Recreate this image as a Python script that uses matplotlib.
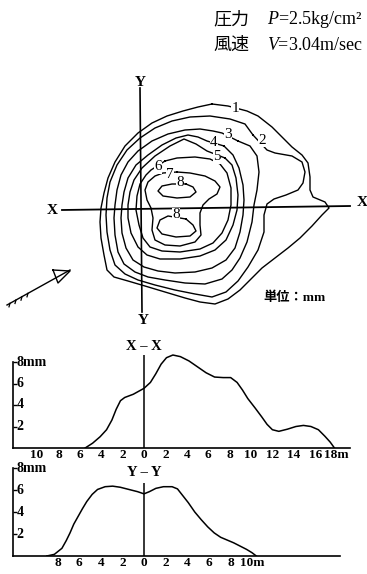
#!/usr/bin/python

# Spray pattern of a sprinkler: depth contours and two cross-section profiles

import matplotlib
matplotlib.use('Agg')
import matplotlib.pyplot as plt

plt.rcParams['font.family'] = ['Liberation Serif', 'Noto Sans CJK JP']
plt.rcParams['mathtext.fontset'] = 'custom'
plt.rcParams['mathtext.it'] = 'Liberation Serif:italic'
plt.rcParams['mathtext.rm'] = 'Liberation Serif'

# contour lines (x, y) in m, origin at the X-Y crossing
c1 = [(7.2, 10.4), (8.8, 10.2), (10.7, 9.7), (11.8, 9.2), (13.2, 8.1), (14.2, 7.1),
      (15.2, 6.1), (16.2, 5.3), (16.8, 4.5), (17.0, 3.1), (17.0, 1.8), (17.3, 1.1),
      (18.5, 0.6), (18.9, 0.0), (18.2, -0.7), (17.2, -1.8), (16.0, -3.0), (14.8, -4.0),
      (13.5, -5.0), (12.2, -6.0), (11.0, -7.2), (10.0, -8.2), (8.8, -9.1), (7.5, -9.6),
      (6.0, -9.4), (4.5, -9.0), (2.5, -8.4), (0.5, -7.8), (-1.2, -7.3), (-2.6, -6.9),
      (-3.3, -6.2), (-3.6, -4.7), (-3.9, -3.0), (-4.0, -1.4), (-3.9, 0.0), (-3.6, 1.5),
      (-3.2, 3.0), (-2.5, 4.6), (-1.5, 6.2), (-0.2, 7.5), (1.2, 8.5), (2.7, 9.2),
      (4.3, 9.7), (5.8, 10.1)]
c2 = [(11.3, 7.3), (12.7, 5.8), (13.5, 5.5), (15.2, 5.2), (16.2, 4.6), (16.5, 3.6),
      (16.3, 2.5), (15.8, 1.8), (14.6, 1.3), (13.4, 0.9), (12.7, 0.4), (12.4, -0.7),
      (12.4, -2.4), (11.8, -4.2), (10.8, -5.9), (9.8, -7.3), (8.6, -8.4), (7.2, -8.9),
      (5.5, -8.6), (3.5, -8.2), (1.5, -7.7), (-0.2, -7.2), (-1.5, -6.6), (-2.5, -5.7),
      (-3.0, -4.2), (-3.3, -2.4), (-3.4, -0.7), (-3.3, 1.0), (-3.0, 2.6), (-2.3, 4.3),
      (-1.3, 5.8), (0.0, 7.0), (1.5, 8.0), (3.2, 8.7), (5.0, 9.1), (7.0, 9.2),
      (9.0, 8.9), (10.5, 8.4)]
c3 = [(9.8, 6.7), (11.0, 6.2), (11.7, 5.2), (11.9, 3.6), (11.7, 1.8), (11.4, 0.3),
      (11.2, -1.4), (10.7, -3.4), (10.0, -5.0), (9.2, -6.2), (8.2, -7.1), (6.5, -7.6),
      (4.5, -7.5), (2.5, -7.2), (0.8, -6.9), (-0.5, -6.4), (-1.6, -5.6), (-2.2, -4.4),
      (-2.5, -2.7), (-2.6, -1.0), (-2.5, 0.3), (-2.3, 1.8), (-1.9, 3.3), (-1.2, 4.6),
      (-0.2, 5.7), (1.2, 6.7), (2.8, 7.4), (4.5, 7.8), (6.0, 7.9), (7.3, 7.7), (8.2, 7.5)]
c4 = [(8.4, 6.2), (9.3, 5.3), (9.9, 4.0), (10.3, 2.3), (10.4, 0.8), (10.3, -0.7),
      (10.0, -2.4), (9.5, -4.0), (8.6, -5.2), (7.2, -6.0), (5.5, -6.4), (3.5, -6.5),
      (1.8, -6.3), (0.4, -5.9), (-0.7, -5.2), (-1.4, -4.0), (-1.8, -2.5), (-1.9, -1.0),
      (-1.8, 0.3), (-1.6, 1.6), (-1.2, 3.0), (-0.4, 4.3), (0.8, 5.3), (2.2, 6.3),
      (3.6, 7.0), (4.8, 7.3), (5.8, 7.1), (6.7, 6.7)]
c5 = [(8.5, 5.0), (9.2, 4.3), (9.6, 3.0), (9.8, 1.3), (9.7, -0.2), (9.3, -1.7),
      (8.6, -3.2), (7.5, -4.2), (6.0, -4.8), (4.0, -5.1), (2.0, -5.1), (0.7, -4.7),
      (-0.2, -3.9), (-0.9, -2.5), (-1.2, -1.0), (-1.2, 0.3), (-1.0, 1.6), (-0.6, 2.8),
      (0.2, 4.0), (1.5, 5.2), (3.0, 6.2), (4.4, 6.9), (5.6, 6.4), (6.7, 5.7)]
c6 = [(2.5, 4.7), (3.7, 5.0), (5.5, 5.1), (7.0, 4.9), (8.0, 4.4), (8.7, 3.5),
      (9.1, 2.0), (9.1, 0.3), (8.8, -1.2), (8.2, -2.5), (7.3, -3.5), (6.0, -4.1),
      (4.0, -4.4), (2.2, -4.3), (1.0, -3.9), (0.3, -3.0), (-0.1, -1.7), (-0.4, -0.2),
      (-0.3, 1.2), (0.0, 2.4), (0.6, 3.3), (1.1, 3.8)]
c7 = [(3.7, 3.6), (5.0, 3.5), (6.5, 3.2), (7.5, 2.7), (8.0, 2.1), (7.7, 1.4),
      (6.9, 0.9), (6.3, 0.3), (6.0, -0.5), (6.0, -1.7), (6.1, -2.7), (5.5, -3.4),
      (4.0, -3.8), (2.5, -3.7), (1.5, -3.2), (1.2, -2.2), (1.3, -1.0), (1.1, 0.0),
      (0.7, 0.8), (0.5, 1.8), (0.8, 2.6), (1.5, 3.2), (2.3, 3.5)]
c8_upper = [(4.6, 2.4), (5.3, 2.1), (5.6, 1.6), (5.0, 1.1), (3.7, 1.0), (2.3, 1.2),
            (1.8, 1.7), (2.2, 2.2), (3.2, 2.4)]
c8_lower = [(4.6, -1.1), (5.3, -1.7), (5.6, -2.3), (5.0, -2.8), (3.6, -2.9), (2.2, -2.6),
            (1.7, -2.0), (2.0, -1.2), (2.8, -0.8)]
contours = [c1, c2, c3, c4, c5, c6, c7, c8_upper, c8_lower]

# contour labels: text, x, y
level_labels = ['1', '2', '3', '4', '5', '6', '7', '8', '8']
level_x = [9.5, 12.2, 8.8, 7.4, 7.7, 1.8, 3.0, 4.0, 3.6]
level_y = [9.9, 6.8, 7.3, 6.6, 5.1, 4.1, 3.4, 2.6, -0.7]

# wind direction sign (lower left)
wind_shaft = [(-13.3, -9.7), (-7.0, -6.2)]
wind_head = [(-8.7, -6.2), (-7.0, -6.3), (-8.2, -7.5), (-8.7, -6.2)]
wind_feathers = [-13.0, -12.4, -11.8, -11.2]

# X-X profile: distance (m), depth (mm)
xx_dist = [-5.5, -4.8, -4.1, -3.5, -3.0, -2.6, -2.2, -1.8, -1.0, 0.0, 0.6, 1.1, 1.6,
           2.1, 2.7, 3.4, 4.2, 5.0, 5.8, 6.6, 7.4, 8.1, 8.7, 9.2, 9.7, 10.4, 11.0,
           11.5, 12.0, 12.6, 13.4, 14.2, 14.9, 15.6, 16.3, 16.9, 17.4, 17.8]
xx_depth = [0, 0.45, 1.05, 1.7, 2.6, 3.6, 4.4, 4.7, 5.0, 5.55, 6.1, 6.9, 7.8,
            8.4, 8.65, 8.5, 8.1, 7.55, 7.0, 6.6, 6.55, 6.55, 6.1, 5.4, 4.6, 3.7, 2.9,
            2.2, 1.7, 1.55, 1.75, 2.0, 2.1, 2.0, 1.7, 1.1, 0.55, 0]
xx_ticks = [-10, -8, -6, -4, -2, 0, 2, 4, 6, 8, 10, 12, 14, 16, 18]

# Y-Y profile
yy_dist = [-9.0, -8.3, -7.6, -7.2, -6.85, -6.5, -6.1, -5.7, -5.3, -4.8, -4.3, -3.6,
           -2.9, -2.2, -1.4, -0.6, 0.0, 0.5, 1.1, 1.8, 2.6, 3.1, 3.5, 4.1, 4.7, 5.3,
           5.9, 6.5, 7.1, 7.7, 8.3, 8.9, 9.5, 10.0, 10.4]
yy_depth = [0, 0.15, 0.7, 1.4, 2.1, 2.9, 3.6, 4.3, 4.95, 5.6, 6.05, 6.3,
            6.35, 6.25, 6.05, 5.85, 5.65, 5.85, 6.15, 6.3, 6.3, 6.1, 5.6, 4.85, 4.0, 3.3,
            2.65, 2.1, 1.7, 1.45, 1.2, 0.9, 0.6, 0.3, 0]
yy_ticks = [-8, -6, -4, -2, 0, 2, 4, 6, 8, 10]

depth_ticks = [2, 4, 6, 8]

W, H = 367, 574
fig = plt.figure(figsize=(W / 100, H / 100), dpi=100)


def fig_rect(x0, y0, x1, y1):
    # pixel box -> figure fraction
    return [x0 / W, 1 - y1 / H, (x1 - x0) / W, (y1 - y0) / H]


# header
fig.text(213 / W, 1 - 19 / H, '圧力', fontsize=13, family='Noto Sans CJK JP', va='center')
fig.text(267 / W, 1 - 19 / H, '$P$=2.5kg/cm²', fontsize=13, va='center')
fig.text(213 / W, 1 - 45 / H, '風速', fontsize=13, family='Noto Sans CJK JP', va='center')
fig.text(267 / W, 1 - 45 / H, '$V$=3.04m/sec', fontsize=13, va='center')

# contour map
ax = fig.add_axes(fig_rect(0, 75, W, 330))
ax.set_xlim(-14, 22.7)
ax.set_ylim(-12.2, 13.3)
ax.axis('off')

for c in contours:
    xs = [p[0] for p in c] + [c[0][0]]
    ys = [p[1] for p in c] + [c[0][1]]
    ax.plot(xs, ys, color='k', lw=1.0, solid_joinstyle='round')

for t, x, y in zip(level_labels, level_x, level_y):
    ax.text(x, y, t, fontsize=11, ha='center', va='center', zorder=5,
            bbox=dict(fc='white', ec='none', pad=0.2))

ax.plot([-7.8, 21.0], [-0.2, 0.2], color='k', lw=1.3)
ax.plot([0, 0.2], [12.0, -10.4], color='k', lw=1.2)
ax.text(-8.8, -0.3, 'X', fontsize=11, fontweight='bold', ha='center', va='center')
ax.text(22.2, 0.6, 'X', fontsize=11, fontweight='bold', ha='center', va='center')
ax.text(0.0, 12.6, 'Y', fontsize=11, fontweight='bold', ha='center', va='center')
ax.text(0.3, -11.2, 'Y', fontsize=11, fontweight='bold', ha='center', va='center')
ax.text(12.3, -9.0, '単位：mm', fontsize=9.5, fontweight='bold', ha='left', va='center')

ax.plot([p[0] for p in wind_shaft], [p[1] for p in wind_shaft], color='k', lw=1.0)
ax.plot([p[0] for p in wind_head], [p[1] for p in wind_head], color='k', lw=1.0)
for fx in wind_feathers:
    fy = -9.7 + (fx + 13.3) * 3.5 / 6.3
    ax.plot([fx, fx - 0.1], [fy, fy - 0.35], color='k', lw=0.9)


def draw_profile(rect, xlim, ylim, x0, x1, dist, depth, ticks, title, title_y, vtop):
    a = fig.add_axes(rect)
    a.patch.set_visible(False)
    a.set_xlim(xlim)
    a.set_ylim(ylim)
    a.plot(dist, depth, color='k', lw=1.1)
    a.vlines(0, 0, vtop, color='k', lw=1.1)
    a.spines['top'].set_visible(False)
    a.spines['right'].set_visible(False)
    a.spines['left'].set_position(('data', x0))
    a.spines['left'].set_bounds(0, 8)
    a.spines['bottom'].set_bounds(x0, x1)
    for s in ['left', 'bottom']:
        a.spines[s].set_linewidth(1.2)
    a.set_yticks(depth_ticks)
    a.tick_params(axis='y', direction='in', length=3, width=1, labelleft=False)
    for v in depth_ticks:
        a.text(x0 + 0.35, v, str(v) + ('mm' if v == 8 else ''), fontsize=10,
               fontweight='bold', ha='left', va='center')
    labels = [str(abs(t)) for t in ticks]
    labels[-1] += 'm'
    a.set_xticks(ticks)
    a.set_xticklabels(labels, fontsize=9.5, fontweight='bold')
    a.tick_params(axis='x', length=0, pad=1)
    a.text(0, title_y, title, fontsize=10.5, fontweight='bold', ha='center', va='center')
    return a


draw_profile(fig_rect(0, 340, W, 448), ((0 - 144) / 10.7, (W - 144) / 10.7), (0, 108 / 10.75),
             -12.24, 19.25, xx_dist, xx_depth, xx_ticks, 'X – X', 9.4, 8.65)
draw_profile(fig_rect(0, 455, W, 556), ((0 - 144) / 10.8, (W - 144) / 10.8), (0, 101 / 11),
             -12.13, 18.15, yy_dist, yy_depth, yy_ticks, 'Y – Y', 7.6, 6.6)

plt.savefig('out.png', dpi=100)
